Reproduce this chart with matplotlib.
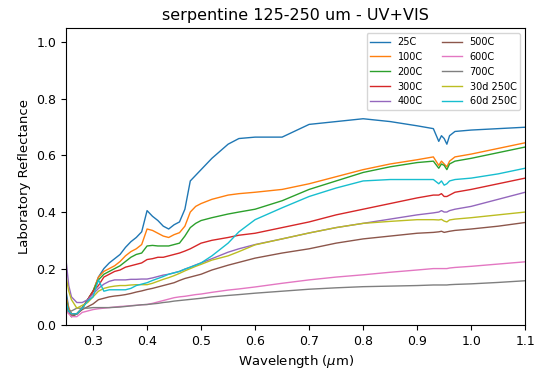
import matplotlib
matplotlib.use("Agg")
import matplotlib.pyplot as plt

# wavelength grid (um)
wl = [0.25, 0.255, 0.26, 0.27, 0.28, 0.29, 0.30, 0.31, 0.32, 0.33, 0.34, 0.35, 0.36, 0.37, 0.38,
      0.39, 0.40, 0.41, 0.42, 0.43, 0.44, 0.45, 0.46, 0.47, 0.48, 0.49, 0.50, 0.52, 0.55, 0.57,
      0.60, 0.65, 0.70, 0.75, 0.80, 0.85, 0.90, 0.93, 0.94, 0.945, 0.95, 0.955, 0.96, 0.97,
      1.00, 1.05, 1.10]

r25 = [0.12, 0.06, 0.04, 0.04, 0.06, 0.09, 0.12, 0.17, 0.20, 0.22, 0.235, 0.25, 0.275, 0.295, 0.31,
       0.33, 0.405, 0.385, 0.37, 0.35, 0.34, 0.355, 0.365, 0.41, 0.51, 0.53, 0.55, 0.59, 0.64, 0.66,
       0.665, 0.665, 0.71, 0.72, 0.73, 0.72, 0.705, 0.695, 0.65, 0.67, 0.66, 0.64, 0.67, 0.685,
       0.69, 0.695, 0.70]
r100 = [0.10, 0.06, 0.04, 0.04, 0.06, 0.09, 0.12, 0.17, 0.19, 0.20, 0.21, 0.225, 0.245, 0.26, 0.27,
        0.285, 0.34, 0.335, 0.325, 0.315, 0.31, 0.32, 0.327, 0.35, 0.40, 0.42, 0.43, 0.445, 0.46, 0.465,
        0.47, 0.48, 0.50, 0.525, 0.55, 0.57, 0.585, 0.595, 0.565, 0.58, 0.57, 0.56, 0.58, 0.595,
        0.605, 0.625, 0.645]
r200 = [0.09, 0.05, 0.03, 0.04, 0.06, 0.09, 0.12, 0.16, 0.18, 0.19, 0.20, 0.21, 0.225, 0.24, 0.25,
        0.255, 0.28, 0.282, 0.28, 0.28, 0.28, 0.285, 0.29, 0.315, 0.345, 0.36, 0.37, 0.38, 0.393, 0.40,
        0.41, 0.44, 0.48, 0.51, 0.54, 0.56, 0.575, 0.58, 0.555, 0.57, 0.565, 0.55, 0.57, 0.58,
        0.59, 0.61, 0.63]
r300 = [0.08, 0.05, 0.04, 0.04, 0.06, 0.09, 0.12, 0.14, 0.17, 0.18, 0.19, 0.195, 0.205, 0.21, 0.215,
        0.22, 0.232, 0.235, 0.24, 0.24, 0.245, 0.25, 0.255, 0.262, 0.27, 0.28, 0.29, 0.30, 0.31, 0.318,
        0.325, 0.345, 0.365, 0.39, 0.41, 0.43, 0.45, 0.46, 0.46, 0.465, 0.455, 0.455, 0.46, 0.47,
        0.48, 0.50, 0.52]
r400 = [0.23, 0.14, 0.10, 0.08, 0.08, 0.09, 0.11, 0.13, 0.145, 0.155, 0.16, 0.16, 0.16, 0.162, 0.162,
        0.163, 0.163, 0.167, 0.172, 0.177, 0.18, 0.185, 0.19, 0.198, 0.205, 0.213, 0.22, 0.235, 0.258, 0.27,
        0.285, 0.305, 0.326, 0.345, 0.36, 0.375, 0.39, 0.397, 0.40, 0.405, 0.40, 0.40, 0.405, 0.41,
        0.42, 0.445, 0.47]
r500 = [0.07, 0.05, 0.03, 0.04, 0.055, 0.065, 0.075, 0.09, 0.095, 0.10, 0.103, 0.105, 0.108, 0.112, 0.117,
        0.121, 0.126, 0.13, 0.135, 0.14, 0.145, 0.15, 0.158, 0.165, 0.17, 0.175, 0.18, 0.195, 0.212, 0.222,
        0.237, 0.255, 0.27, 0.29, 0.305, 0.315, 0.325, 0.328, 0.33, 0.332, 0.328, 0.33, 0.332, 0.335,
        0.34, 0.35, 0.363]
r600 = [0.05, 0.04, 0.03, 0.03, 0.045, 0.05, 0.055, 0.058, 0.06, 0.062, 0.064, 0.066, 0.067, 0.069, 0.07,
        0.072, 0.073, 0.077, 0.082, 0.087, 0.092, 0.097, 0.10, 0.102, 0.105, 0.108, 0.11, 0.116, 0.124, 0.128,
        0.135, 0.148, 0.16, 0.17, 0.178, 0.187, 0.195, 0.2, 0.2, 0.2, 0.2, 0.2, 0.202, 0.204,
        0.208, 0.216, 0.224]
r700 = [0.05, 0.05, 0.05, 0.06, 0.06, 0.06, 0.062, 0.062, 0.062, 0.062, 0.063, 0.064, 0.066, 0.068, 0.07,
        0.072, 0.073, 0.075, 0.077, 0.08, 0.082, 0.085, 0.087, 0.089, 0.091, 0.093, 0.095, 0.1, 0.105, 0.108,
        0.113, 0.12, 0.127, 0.132, 0.136, 0.138, 0.14, 0.142, 0.142, 0.142, 0.142, 0.142, 0.143, 0.144,
        0.146, 0.151, 0.157]
r30d = [0.17, 0.12, 0.09, 0.06, 0.07, 0.08, 0.10, 0.12, 0.13, 0.135, 0.138, 0.14, 0.14, 0.142, 0.143,
        0.143, 0.143, 0.148, 0.155, 0.162, 0.168, 0.175, 0.183, 0.192, 0.2, 0.208, 0.215, 0.23, 0.245, 0.26,
        0.284, 0.305, 0.326, 0.345, 0.36, 0.367, 0.373, 0.373, 0.372, 0.374, 0.368, 0.365, 0.372, 0.375,
        0.38, 0.39, 0.40]
r60d = [0.08, 0.05, 0.04, 0.04, 0.06, 0.085, 0.10, 0.16, 0.12, 0.125, 0.125, 0.125, 0.125, 0.13, 0.14,
        0.145, 0.15, 0.158, 0.165, 0.172, 0.18, 0.185, 0.19, 0.198, 0.205, 0.212, 0.22, 0.245, 0.29, 0.33,
        0.373, 0.415, 0.455, 0.485, 0.51, 0.515, 0.515, 0.515, 0.50, 0.51, 0.495, 0.50, 0.51, 0.515,
        0.52, 0.535, 0.555]

labels = ["25C", "100C", "200C", "300C", "400C", "500C", "600C", "700C", "30d 250C", "60d 250C"]
spectra = [r25, r100, r200, r300, r400, r500, r600, r700, r30d, r60d]

fig = plt.figure(figsize=(5.37, 3.72), dpi=100)
ax = fig.add_axes([0.123, 0.126, 0.855, 0.798])

for lab, s in zip(labels, spectra):
    ax.plot(wl, s, linewidth=1.0, label=lab)

ax.set_xlim(0.25, 1.1)
ax.set_ylim(0, 1.05)
ax.set_xticks([0.3, 0.4, 0.5, 0.6, 0.7, 0.8, 0.9, 1.0, 1.1])
ax.set_yticks([0.0, 0.2, 0.4, 0.6, 0.8, 1.0])
ax.tick_params(labelsize=9)
ax.set_xlabel(r"Wavelength ($\mu$m)", fontsize=9.5)
ax.set_ylabel("Laboratory Reflectance", fontsize=9.5)
ax.set_title("serpentine 125-250 um - UV+VIS", fontsize=11.5)
ax.legend(ncol=2, loc="upper right", fontsize=7)

fig.savefig("out.png", dpi=100)
